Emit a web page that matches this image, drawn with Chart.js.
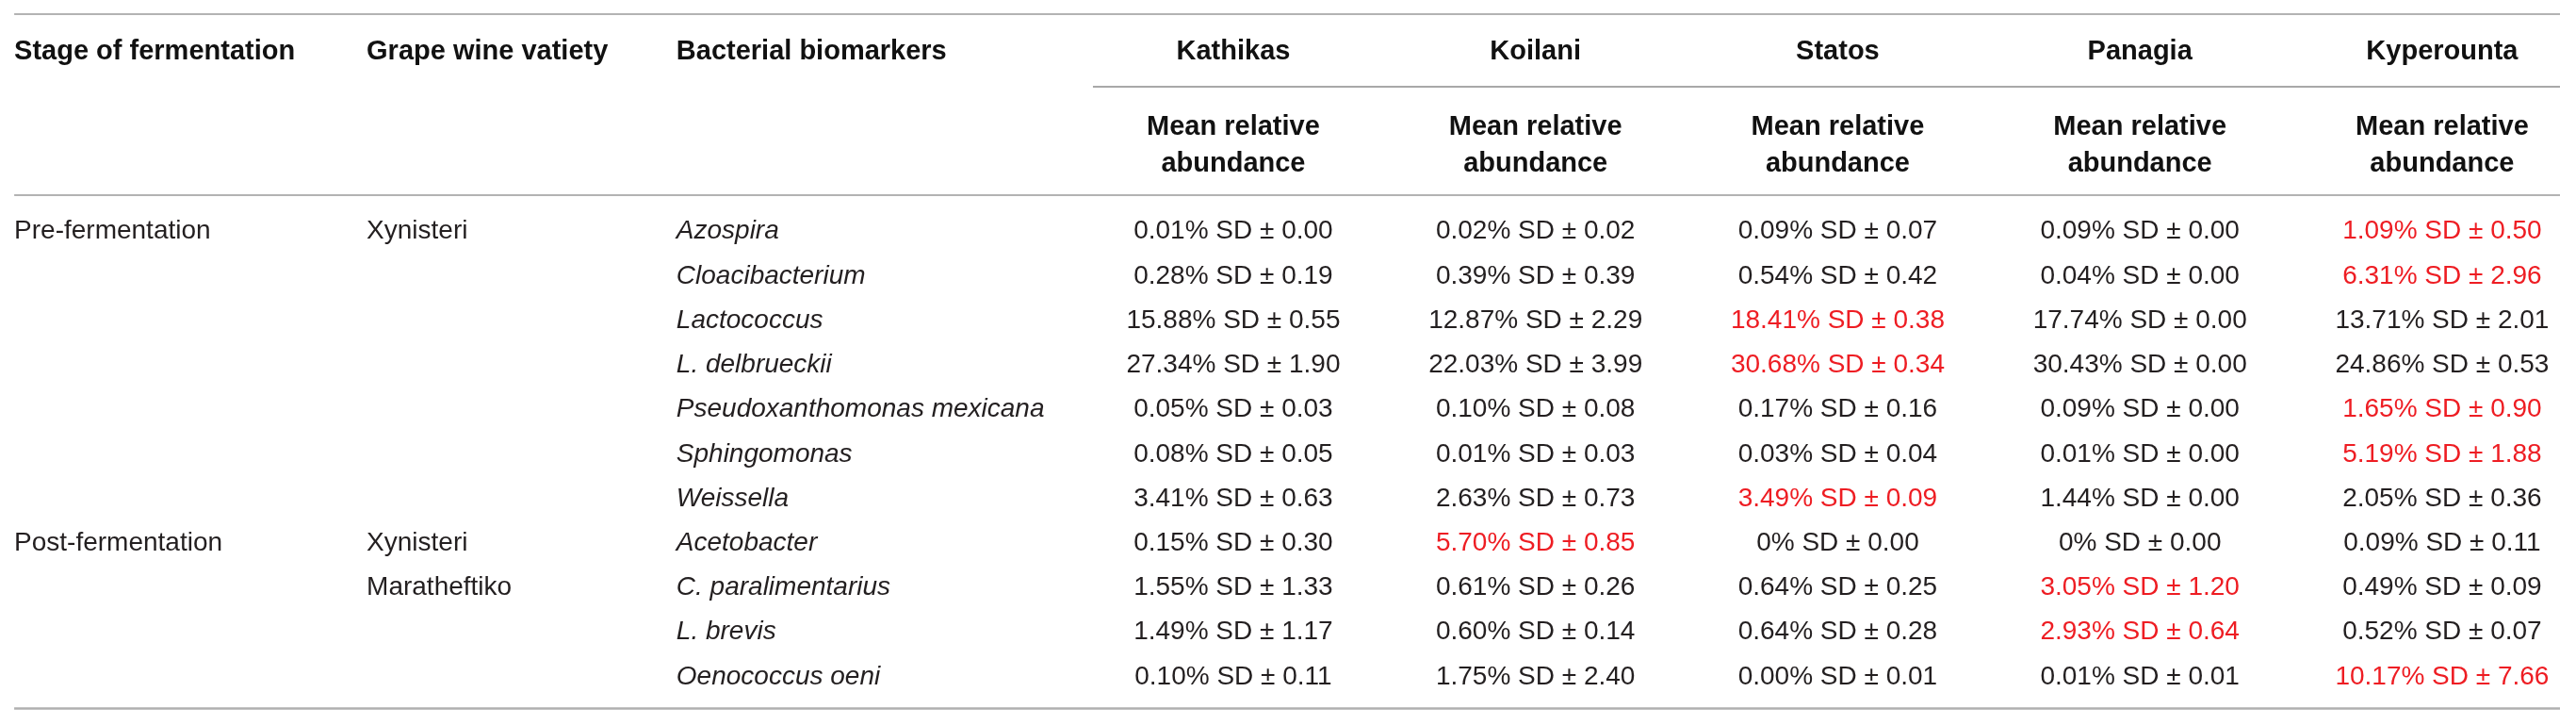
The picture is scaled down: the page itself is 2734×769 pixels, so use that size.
<!DOCTYPE html>
<html lang="en">
<head>
  <meta charset="UTF-8" />
  <title>Bacterial biomarkers by site</title>
  <script src="https://cdn.jsdelivr.net/npm/chart.js"></script>
  <style>
    body {
      margin: 0;
      padding: 0;
      background: #fff;
    }

    .container {
      position: relative;
      width: 2734px;
      height: 769px;
    }
  </style>
</head>
<body>

  <div class="container">
    <canvas id="jadual"></canvas>
  </div>

  <script>
    // --- data from the table ---
    const sites = ["Kathikas", "Koilani", "Statos", "Panagia", "Kyperounta"];
    const biomarkers = [
      "Azospira", "Cloacibacterium", "Lactococcus", "L. delbrueckii",
      "Pseudoxanthomonas mexicana", "Sphingomonas", "Weissella",
      "Acetobacter", "C. paralimentarius", "L. brevis", "Oenococcus oeni"
    ];
    const stages = ["Pre-fermentation", "", "", "", "", "", "", "Post-fermentation", "", "", ""];
    const varieties = ["Xynisteri", "", "", "", "", "", "", "Xynisteri", "Maratheftiko", "", ""];

    const kathikasMean = ["0.01", "0.28", "15.88", "27.34", "0.05", "0.08", "3.41", "0.15", "1.55", "1.49", "0.10"];
    const kathikasSD   = ["0.00", "0.19", "0.55", "1.90", "0.03", "0.05", "0.63", "0.30", "1.33", "1.17", "0.11"];
    const koilaniMean  = ["0.02", "0.39", "12.87", "22.03", "0.10", "0.01", "2.63", "5.70", "0.61", "0.60", "1.75"];
    const koilaniSD    = ["0.02", "0.39", "2.29", "3.99", "0.08", "0.03", "0.73", "0.85", "0.26", "0.14", "2.40"];
    const statosMean   = ["0.09", "0.54", "18.41", "30.68", "0.17", "0.03", "3.49", "0", "0.64", "0.64", "0.00"];
    const statosSD     = ["0.07", "0.42", "0.38", "0.34", "0.16", "0.04", "0.09", "0.00", "0.25", "0.28", "0.01"];
    const panagiaMean  = ["0.09", "0.04", "17.74", "30.43", "0.09", "0.01", "1.44", "0", "3.05", "2.93", "0.01"];
    const panagiaSD    = ["0.00", "0.00", "0.00", "0.00", "0.00", "0.00", "0.00", "0.00", "1.20", "0.64", "0.01"];
    const kyperMean    = ["1.09", "6.31", "13.71", "24.86", "1.65", "5.19", "2.05", "0.09", "0.49", "0.52", "10.17"];
    const kyperSD      = ["0.50", "2.96", "2.01", "0.53", "0.90", "1.88", "0.36", "0.11", "0.09", "0.07", "7.66"];

    // column (site index) highlighted in red for each row
    const highlightSite = [4, 4, 2, 2, 4, 4, 2, 1, 3, 3, 4];

    const siteMeans = [kathikasMean, koilaniMean, statosMean, panagiaMean, kyperMean];
    const siteSDs = [kathikasSD, koilaniSD, statosSD, panagiaSD, kyperSD];

    // --- layout (in scale units: 1 x unit = one site column, 1 y unit = one row) ---
    const X_MIN = -4.081, X_MAX = 4.443;
    const Y_MIN = -5.151, Y_MAX = 11.131;
    const COL_STAGE = -4.034, COL_VARIETY = -2.868, COL_MARKER = -1.843;
    const LINE_LEFT = -4.034, LINE_RIGHT = 4.39, SUBLINE_LEFT = -0.4645;
    const ROW_SITE = -4.04, ROW_MEAN1 = -2.335, ROW_MEAN2 = -1.51;

    const FONT = "'Liberation Sans', Arial, sans-serif";
    const TEXT = "#231f20";
    const RED = "#ee1d23";

    function cellPoints(arr, x) {
      return arr.map((_, i) => ({ x: x, y: i }));
    }

    const datasets = [
      { label: "stage", data: cellPoints(stages, COL_STAGE), texts: stages, align: "left" },
      { label: "variety", data: cellPoints(varieties, COL_VARIETY), texts: varieties, align: "left" },
      { label: "marker", data: cellPoints(biomarkers, COL_MARKER), texts: biomarkers, align: "left", italic: true }
    ];
    sites.forEach((s, k) => {
      datasets.push({
        label: s,
        data: cellPoints(siteMeans[k], k),
        texts: siteMeans[k].map((m, i) => m + "% SD \u00b1 " + siteSDs[k][i]),
        colors: siteMeans[k].map((_, i) => highlightSite[i] === k ? RED : TEXT),
        align: "center"
      });
    });
    datasets.forEach(d => { d.pointRadius = 0; d.pointHoverRadius = 0; });

    // draws the table text and rules from the scales
    const tablePlugin = {
      id: "tablePlugin",
      afterDatasetsDraw(chart) {
        const ctx = chart.ctx;
        const xs = chart.scales.x, ys = chart.scales.y;
        ctx.save();

        function rule(v, x0, x1, w, c) {
          const y = ys.getPixelForValue(v);
          ctx.beginPath();
          ctx.strokeStyle = c;
          ctx.lineWidth = w;
          ctx.moveTo(xs.getPixelForValue(x0), y);
          ctx.lineTo(xs.getPixelForValue(x1), y);
          ctx.stroke();
        }
        rule(-4.834, LINE_LEFT, LINE_RIGHT, 1.5, "#9a9a9a");
        rule(-3.203, SUBLINE_LEFT, LINE_RIGHT, 2, "#a8a8a8");
        rule(-0.769, LINE_LEFT, LINE_RIGHT, 1.5, "#9a9a9a");
        rule(10.76, LINE_LEFT, LINE_RIGHT, 2.5, "#b0b0b0");

        // header
        const hsize = 29;
        ctx.font = "bold " + hsize + "px " + FONT;
        ctx.fillStyle = "#111";
        ctx.textBaseline = "alphabetic";
        const hoff = hsize * 0.36;
        ctx.textAlign = "left";
        const hy = ys.getPixelForValue(ROW_SITE) + hoff;
        ctx.fillText("Stage of fermentation", xs.getPixelForValue(COL_STAGE), hy);
        ctx.fillText("Grape wine vatiety", xs.getPixelForValue(COL_VARIETY), hy);
        ctx.fillText("Bacterial biomarkers", xs.getPixelForValue(COL_MARKER), hy);
        ctx.textAlign = "center";
        sites.forEach((s, k) => {
          const x = xs.getPixelForValue(k);
          ctx.fillText(s, x, hy);
          ctx.fillText("Mean relative", x, ys.getPixelForValue(ROW_MEAN1) + hoff);
          ctx.fillText("abundance", x, ys.getPixelForValue(ROW_MEAN2) + hoff);
        });

        // body cells, placed at each point the library laid out
        const size = 28;
        chart.data.datasets.forEach((ds, di) => {
          const meta = chart.getDatasetMeta(di);
          ctx.font = (ds.italic ? "italic " : "") + size + "px " + FONT;
          ctx.textAlign = ds.align;
          meta.data.forEach((pt, i) => {
            const t = ds.texts[i];
            if (!t) return;
            ctx.fillStyle = ds.colors ? ds.colors[i] : TEXT;
            ctx.fillText(t, pt.x, pt.y + size * 0.36);
          });
        });
        ctx.restore();
      }
    };

    new Chart(document.getElementById("jadual").getContext("2d"), {
      type: "scatter",
      data: { datasets: datasets },
      options: {
        responsive: true,
        maintainAspectRatio: false,
        animation: false,
        devicePixelRatio: 1,
        layout: { padding: 0 },
        plugins: {
          legend: { display: false },
          tooltip: { enabled: false }
        },
        scales: {
          x: { type: "linear", display: false, min: X_MIN, max: X_MAX },
          y: { type: "linear", display: false, reverse: true, min: Y_MIN, max: Y_MAX }
        }
      },
      plugins: [tablePlugin]
    });
  </script>
</body>
</html>
